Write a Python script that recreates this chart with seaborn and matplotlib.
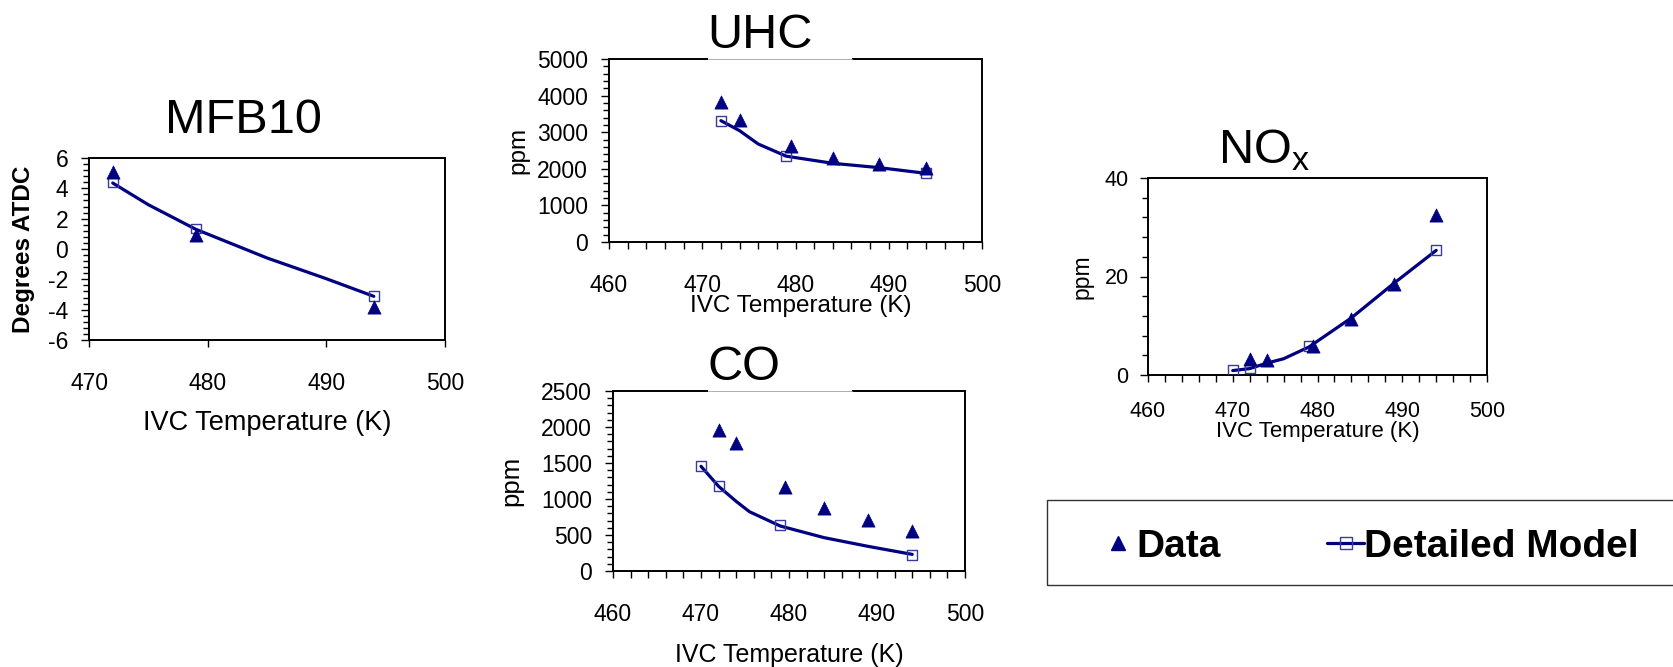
import matplotlib
matplotlib.use("Agg")
import pandas as pd
import matplotlib.pyplot as plt
import seaborn as sns
from matplotlib.lines import Line2D
from matplotlib.patches import Rectangle
from matplotlib.ticker import MultipleLocator
from matplotlib.font_manager import FontProperties


sns.set_style("ticks")
plt.rcParams["font.family"] = ["Liberation Sans", "DejaVu Sans"]
plt.rcParams["mathtext.fontset"] = "custom"
plt.rcParams["mathtext.rm"] = "Liberation Sans"
plt.rcParams["mathtext.default"] = "regular"
plt.rcParams["axes.unicode_minus"] = False
for key in ["text.color", "axes.labelcolor", "xtick.color", "ytick.color", "axes.edgecolor"]:
    plt.rcParams[key] = "black"

NAVY = "#000080"
SQ_EDGE = "#3a3aa0"
FIG_W, FIG_H = 1674, 667

# ---- values ----
MFB_DATA_T = [472, 479, 494]
MFB_DATA_Y = [5.08, 0.93, -3.85]
MFB_MODEL_T = [472, 479, 494]
MFB_MODEL_Y = [4.4, 1.35, -3.12]
MFB_CURVE_T = [472, 475, 479, 485, 490, 494]
MFB_CURVE_Y = [4.35, 2.92, 1.3, -0.59, -1.96, -3.12]

UHC_DATA_T = [472, 474, 479.5, 484, 489, 494]
UHC_DATA_Y = [3816, 3324, 2614, 2304, 2140, 2031]
UHC_MODEL_T = [472, 479, 494]
UHC_MODEL_Y = [3315, 2359, 1876]
UHC_CURVE_T = [472, 474, 476, 479, 484, 489, 494]
UHC_CURVE_Y = [3315, 3042, 2678, 2345, 2150, 2031, 1876]

CO_DATA_T = [472, 474, 479.5, 484, 489, 494]
CO_DATA_Y = [1954, 1782, 1171, 880, 708, 555]
CO_MODEL_T = [470, 472, 479, 494]
CO_MODEL_Y = [1454, 1176, 634, 227]
CO_CURVE_T = [470, 472, 474, 475.5, 479, 484, 489, 494]
CO_CURVE_Y = [1454, 1176, 967, 824, 625, 463, 342, 231]

NOX_DATA_T = [472, 474, 479.5, 484, 489, 494]
NOX_DATA_Y = [3.25, 2.98, 5.82, 11.4, 18.5, 32.4]
NOX_MODEL_T = [470, 472, 479, 494]
NOX_MODEL_Y = [1.0, 1.35, 5.82, 25.4]
NOX_CURVE_T = [470, 472, 474, 476, 479, 484, 489, 494]
NOX_CURVE_Y = [0.9, 1.3, 2.4, 3.3, 5.7, 11.6, 18.6, 25.3]

X_LABEL = "IVC Temperature (K)"
LEGEND_LABELS = ["Data", "Detailed Model"]


def px_rect(left, top, right, bottom):
    """Pixel box -> figure fraction rect."""
    return [left / FIG_W, 1 - bottom / FIG_H, (right - left) / FIG_W, (bottom - top) / FIG_H]


PANELS = [
    dict(name="MFB10", title="MFB10", rect=px_rect(89, 158, 445, 340),
         data=(MFB_DATA_T, MFB_DATA_Y), model=(MFB_MODEL_T, MFB_MODEL_Y),
         curve=(MFB_CURVE_T, MFB_CURVE_Y),
         xlim=(470, 500), ylim=(-6, 6), xmajor=10, xminor=None, ymajor=2, yminor=0.4,
         ylabel="Degrees ATDC", ylabel_bold=True, ylabel_size=17.5, ylabel_x=-0.152,
         xlabel_size=19.5, xlabel_pos=(0.5, -0.385), tick_size=16.5, xpad=18, ypad=9,
         title_pos=(0.435, 1.137), gap=None),
    dict(name="UHC", title="UHC", rect=px_rect(609, 59, 982, 242),
         data=(UHC_DATA_T, UHC_DATA_Y), model=(UHC_MODEL_T, UHC_MODEL_Y),
         curve=(UHC_CURVE_T, UHC_CURVE_Y),
         xlim=(460, 500), ylim=(0, 5000), xmajor=10, xminor=2, ymajor=1000, yminor=200,
         ylabel="ppm", ylabel_bold=False, ylabel_size=17.5, ylabel_x=-0.214,
         xlabel_size=17.5, xlabel_pos=(0.515, -0.29), tick_size=16.5, xpad=18, ypad=9,
         title_pos=(0.405, 1.06), gap=(0.265, 0.651)),
    dict(name="CO", title="CO", rect=px_rect(613, 391, 965, 571),
         data=(CO_DATA_T, CO_DATA_Y), model=(CO_MODEL_T, CO_MODEL_Y),
         curve=(CO_CURVE_T, CO_CURVE_Y),
         xlim=(460, 500), ylim=(0, 2500), xmajor=10, xminor=2, ymajor=500, yminor=100,
         ylabel="ppm", ylabel_bold=False, ylabel_size=18.5, ylabel_x=-0.256,
         xlabel_size=18, xlabel_pos=(0.5, -0.40), tick_size=16.5, xpad=18, ypad=9,
         title_pos=(0.371, 1.061), gap=(0.270, 0.679)),
    dict(name="NOx", title=r"NO$_x$", rect=px_rect(1148, 178, 1487, 375),
         data=(NOX_DATA_T, NOX_DATA_Y), model=(NOX_MODEL_T, NOX_MODEL_Y),
         curve=(NOX_CURVE_T, NOX_CURVE_Y),
         xlim=(460, 500), ylim=(0, 40), xmajor=10, xminor=2, ymajor=20, yminor=4,
         ylabel="ppm", ylabel_bold=False, ylabel_size=16.5, ylabel_x=-0.162,
         xlabel_size=16, xlabel_pos=(0.5, -0.234), tick_size=15.5, xpad=14, ypad=8,
         title_pos=(0.341, 1.076), gap=None),
]


def draw_panel(fig, cfg):
    ax = fig.add_axes(cfg["rect"])

    curve = pd.DataFrame({"T": cfg["curve"][0], "val": cfg["curve"][1]})
    model = pd.DataFrame({"T": cfg["model"][0], "val": cfg["model"][1]})
    data = pd.DataFrame({"T": cfg["data"][0], "val": cfg["data"][1]})

    sns.lineplot(data=curve, x="T", y="val", color=NAVY, linewidth=2.3,
                 estimator=None, sort=False, ax=ax, zorder=2)
    sns.scatterplot(data=model, x="T", y="val", marker="s", s=50,
                    facecolor="none", edgecolor=SQ_EDGE, linewidth=1.0, ax=ax, zorder=3)
    sns.scatterplot(data=data, x="T", y="val", marker="^", s=90,
                    color=NAVY, edgecolor=NAVY, linewidth=0.5, ax=ax, zorder=4)

    ax.set_xlim(*cfg["xlim"])
    ax.set_ylim(*cfg["ylim"])
    ax.xaxis.set_major_locator(MultipleLocator(cfg["xmajor"]))
    if cfg["xminor"]:
        ax.xaxis.set_minor_locator(MultipleLocator(cfg["xminor"]))
    ax.yaxis.set_major_locator(MultipleLocator(cfg["ymajor"]))
    ax.yaxis.set_minor_locator(MultipleLocator(cfg["yminor"]))

    for sp in ax.spines.values():
        sp.set_visible(True)
        sp.set_color("black")
        sp.set_linewidth(1.4)

    ax.tick_params(which="both", direction="out", color="black", width=1.0,
                   bottom=True, left=True, top=False, right=False)
    ax.tick_params(axis="y", which="major", length=6, pad=cfg["ypad"], labelsize=cfg["tick_size"])
    ax.tick_params(axis="y", which="minor", length=4)
    ax.tick_params(axis="x", which="major", length=5, pad=cfg["xpad"], labelsize=cfg["tick_size"])
    ax.tick_params(axis="x", which="minor", length=5)

    ax.set_xlabel(X_LABEL, fontsize=cfg["xlabel_size"])
    ax.xaxis.set_label_coords(*cfg["xlabel_pos"])
    ax.set_ylabel(cfg["ylabel"], fontsize=cfg["ylabel_size"],
                  fontweight="bold" if cfg["ylabel_bold"] else "normal")
    ax.yaxis.set_label_coords(cfg["ylabel_x"], 0.5)

    if cfg["gap"]:
        x0, x1 = cfg["gap"]
        ax.add_patch(Rectangle((x0, 0.97), x1 - x0, 0.06, transform=ax.transAxes,
                               facecolor="white", edgecolor="none", clip_on=False, zorder=5))
        ax.plot([x0, x1], [1, 1], transform=ax.transAxes, color="#a0a0a0",
                linewidth=0.6, clip_on=False, zorder=6)

    ax.text(cfg["title_pos"][0], cfg["title_pos"][1], cfg["title"], transform=ax.transAxes,
            ha="center", va="baseline", fontsize=35, zorder=7)
    return ax


def main():
    fig = plt.figure(figsize=(FIG_W / 100, FIG_H / 100), dpi=100)

    for cfg in PANELS:
        draw_panel(fig, cfg)

    # legend box running off the right edge
    fig.add_artist(Rectangle((1047 / FIG_W, 1 - 585 / FIG_H), 0.5, 85 / FIG_H,
                             transform=fig.transFigure, facecolor="white",
                             edgecolor="#333333", linewidth=1.0))

    handles = [
        Line2D([], [], linestyle="none", marker="^", markersize=9.5, color=NAVY),
        Line2D([], [], color=NAVY, linewidth=2.3, marker="s", markersize=8,
               markerfacecolor="none", markeredgecolor=SQ_EDGE, markeredgewidth=1.0),
    ]
    leg_font = FontProperties(family=["Liberation Sans"], weight="bold", size=28)
    fig.legend(handles, LEGEND_LABELS, loc="center left",
               bbox_to_anchor=(1100 / FIG_W, 1 - 547 / FIG_H),
               frameon=False, ncol=2, handlelength=0.93, handletextpad=0.0,
               columnspacing=2.75, borderpad=0, borderaxespad=0, prop=leg_font)

    fig.savefig("out.png", dpi=100)


if __name__ == "__main__":
    main()
